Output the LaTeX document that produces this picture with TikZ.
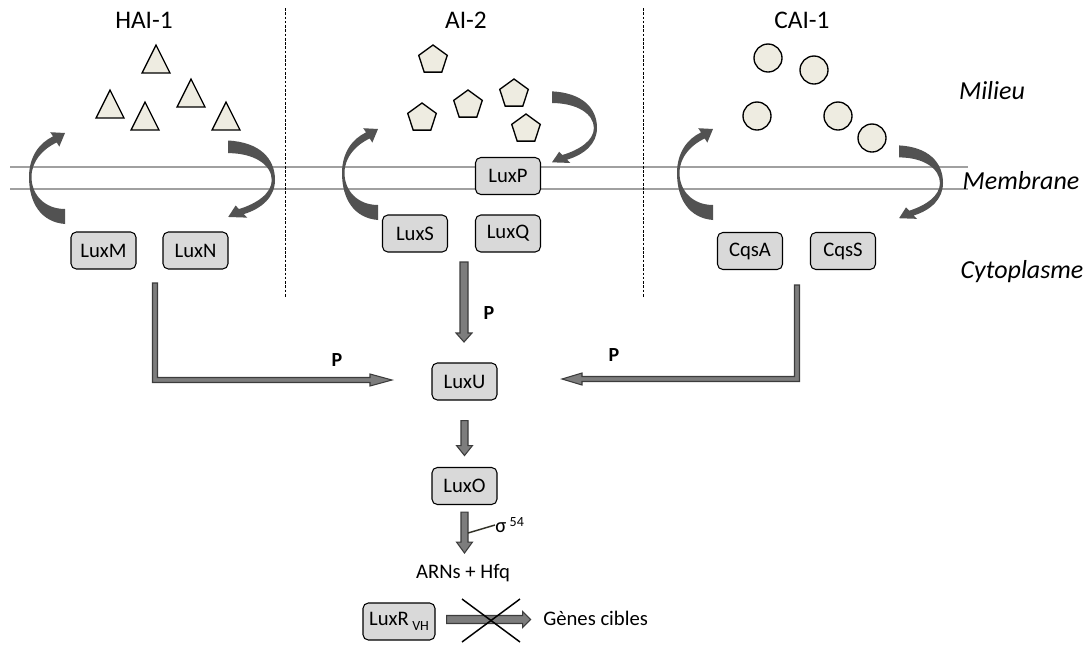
\documentclass[tikz,border=0pt]{standalone}
\usepackage{fontspec}
\setmainfont{Carlito}
\usetikzlibrary{shapes.geometric,calc}
\definecolor{molfill}{RGB}{238,236,225}
\definecolor{boxfill}{RGB}{217,217,217}
\definecolor{arcgray}{RGB}{82,82,82}
\definecolor{blkfill}{RGB}{125,125,125}
\definecolor{blkline}{RGB}{60,60,60}
\definecolor{memgray}{RGB}{160,160,160}
\newcommand\qsarc[1]{\fill[arcgray,#1] (36,47) .. controls (12,45) and (0,26) .. (0,0)
  .. controls (0,-20) and (10,-34) .. (24.0,-40.6) -- (21.3,-44.8) -- (36,-44) -- (30.3,-30.4) -- (27.7,-34.6)
  .. controls (14,-28) and (2.5,-16) .. (2.5,0) .. controls (2.5,18) and (16,32) .. (36,32) -- cycle;}
\begin{document}
\begin{tikzpicture}[x=0.75pt,y=-0.75pt,
  box/.style={draw=black, line width=0.8pt, rounded corners=4pt, fill=boxfill,
    minimum width=48.75pt, minimum height=27.75pt, inner sep=0pt,
    font=\fontsize{15.5}{18}\selectfont},
  title/.style={font=\fontsize{19}{22}\selectfont, inner sep=0pt},
  side/.style={font=\fontsize{19.5}{22}\selectfont\itshape, inner sep=0pt},
  plab/.style={font=\fontsize{15}{18}\selectfont\bfseries, inner sep=0pt},
  txt/.style={font=\fontsize{15.5}{18}\selectfont, inner sep=0pt},
  mol/.style={draw=black, line width=1pt, fill=molfill, line join=miter},
  pent/.style={mol, regular polygon, regular polygon sides=5, minimum size=22.5pt, inner sep=0pt},
  ball/.style={mol, circle, minimum size=21pt, inner sep=0pt},
  blk/.style={fill=blkfill, draw=blkline, line width=0.8pt, line join=miter},
  memb/.style={draw=memgray, line width=0.9pt},
  sep/.style={draw=black, line width=0.7pt, dash pattern=on 2pt off 1.2pt}]
\useasboundingbox (0,0) rectangle (1091,644);

% membrane
\draw[memb] (10,167) -- (968,167);
\draw[memb] (10,189) -- (968,189);

% separators
\draw[sep] (285,8) -- (285,297);
\draw[sep] (643,8) -- (643,297);

% titles
\node[title] (hai) at (144,20) {HAI-1};
\node[title] (ai2) at (466,20) {AI-2};
\node[title] (cai) at (802,20) {CAI-1};

% side labels
\node[side] (milieu) at (992,91) {Milieu};
\node[side] (membrane) at (1021,181) {Membrane};
\node[side] (cyto) at (1022,272) {Cytoplasme};

% triangles (HAI-1)
\foreach \x/\y in {156/59, 110/104, 145/116, 191/93, 226/116}
  \draw[mol] (\x,\y-14) -- (\x+14,\y+14) -- (\x-14,\y+14) -- cycle;

% pentagons (AI-2)
\node[pent] (p1) at (433,60) {};
\node[pent] (p2) at (422,118) {};
\node[pent] (p3) at (468,105) {};
\node[pent] (p4) at (514,94) {};
\node[pent] (p5) at (526,129) {};

% circles (CAI-1)
\node[ball] (c1) at (768,58) {};
\node[ball] (c2) at (814,70) {};
\node[ball] (c3) at (757,116) {};
\node[ball] (c4) at (838,116) {};
\node[ball] (c5) at (872,138) {};

% curved arrows
\qsarc{shift={(29,177)}}
\qsarc{shift={(275,180)}, rotate=180, xscale=1.3, yscale=0.84}
\qsarc{shift={(342,173)}}
\qsarc{shift={(597,128)}, rotate=180, xscale=1.25, yscale=0.78}
\qsarc{shift={(677,173)}}
\qsarc{shift={(943,183)}, rotate=180, xscale=1.22, yscale=0.8}

% boxes
\node[box] (luxm) at (103.5,250.5) {LuxM};
\node[box] (luxn) at (195.5,250.5) {LuxN};
\node[box] (luxp) at (508,176) {LuxP};
\node[box] (luxs) at (415,233.5) {LuxS};
\node[box] (luxq) at (508,233.5) {LuxQ};
\node[box] (cqsa) at (750,251) {CqsA};
\node[box] (cqss) at (843,251) {CqsS};
\node[box] (luxu) at (464.5,381.5) {LuxU};
\node[box] (luxo) at (464.5,486) {LuxO};
\node[box, minimum width=54pt] (luxr) at (399,621.5) {LuxR\,\raisebox{-3.5pt}{\fontsize{10.5}{12}\selectfont VH}};

% connector start points
\coordinate (hstart) at (155,283);
\coordinate (cstart) at (797,285);
\coordinate (qstart) at (464,262);
\coordinate (ustart) at ($(luxu.south)+(0,20)$);
\coordinate (ostart) at ($(luxo.south)+(0,7)$);
\coordinate (rstart) at ($(luxr.east)+(11,-2)$);

% L-arrow from HAI-1 receptors to LuxU
\draw[blk, shift={(hstart)}] (-2.5,0) -- (2.5,0) -- (2.5,94.5) -- (215,94.5) -- (215,91) -- (237,97)
  -- (215,103) -- (215,99.5) -- (-2.5,99.5) -- cycle;
% L-arrow from CAI-1 receptors to LuxU
\draw[blk, shift={(cstart)}] (2.5,0) -- (2.5,96.5) -- (-215,96.5) -- (-215,100) -- (-235,94)
  -- (-215,88) -- (-215,91.5) -- (-2.5,91.5) -- (-2.5,0) -- cycle;
% AI-2 arrow down to LuxU
\draw[blk, shift={(qstart)}] (-4,0) -- (4,0) -- (4,71) -- (8,71) -- (0,80) -- (-8,71) -- (-4,71) -- cycle;
% LuxU -> LuxO
\draw[blk, shift={(ustart)}] (-3.5,0) -- (3.5,0) -- (3.5,25) -- (8,25) -- (0,35) -- (-8,25) -- (-3.5,25) -- cycle;
% LuxO -> ARNs
\draw[blk, shift={(ostart)}] (-3.5,0) -- (3.5,0) -- (3.5,30) -- (8,30) -- (0,41) -- (-8,30) -- (-3.5,30) -- cycle;
% LuxR -> genes
\draw[blk, shift={(rstart)}] (0,-4) -- (76,-4) -- (76,-8) -- (84,0) -- (76,8) -- (76,4) -- (0,4) -- cycle;

% P labels
\node[plab] (pl) at (337,360) {P};
\node[plab] (pc) at (489,313) {P};
\node[plab] (pr) at (614,355) {P};

% sigma 54
\node[txt, anchor=west] (sigma) at (495,525) {σ\,\raisebox{5pt}{\fontsize{10.5}{12}\selectfont 54}};
\draw[line width=1.1pt, draw={rgb,255:red,50;green,50;blue,40}] (468,533) -- (sigma.west);

% ARNs
\node[txt] (arns) at (463,573) {ARNs + Hfq};

% genes
\node[txt, anchor=west] (genes) at (543,618) {Gènes cibles};

% cross
\draw[line width=1.1pt] (462,599) -- (520,642);
\draw[line width=1.1pt] (520,599) -- (462,642);
\end{tikzpicture}
\end{document}
